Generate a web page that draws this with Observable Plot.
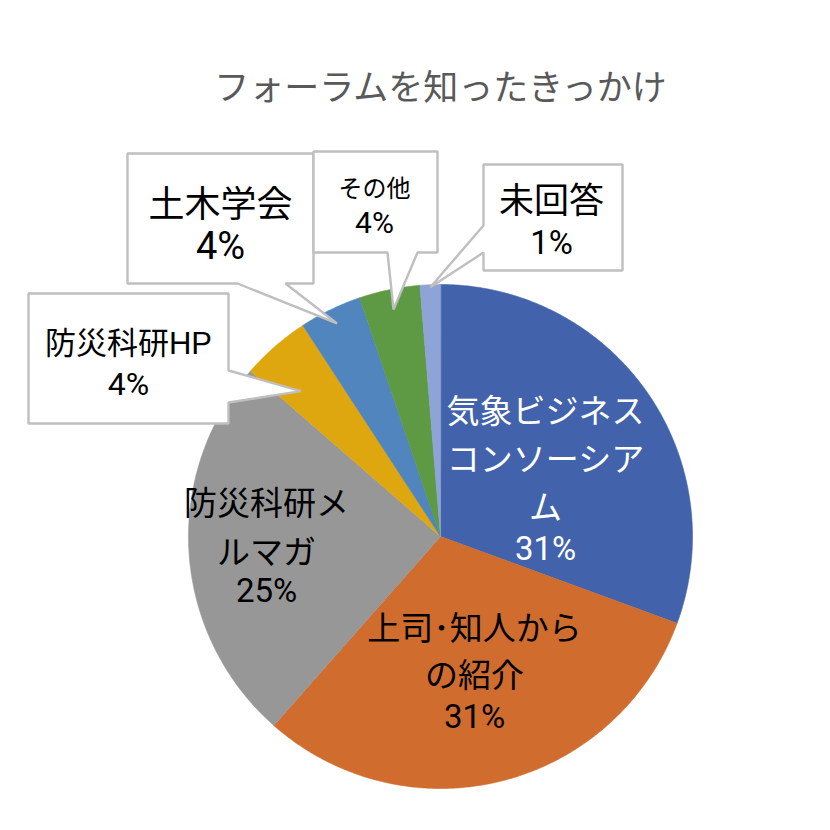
<!DOCTYPE html>
<html><head><meta charset="utf-8">
<script src="https://cdn.jsdelivr.net/npm/d3@7"></script>
<script src="https://cdn.jsdelivr.net/npm/@observablehq/plot@0.6"></script>
<style>
body{margin:0;background:#fff;}
#chart{width:830px;height:830px;}
</style></head><body><div id="chart"></div>
<script>
// ---------- data ----------
const title = "フォーラムを知ったきっかけ";
const categories = ["気象ビジネスコンソーシアム","上司･知人からの紹介","防災科研メルマガ","防災科研HP","土木学会","その他","未回答"];
const shares = [30.6, 30.9, 24.9, 4.4, 4.0, 3.9, 1.3];
const labelLines = [["気象ビジネス","コンソーシア","ム"],["上司･知人から","の紹介"],["防災科研メ","ルマガ"],["防災科研HP"],["土木学会"],["その他"],["未回答"]];
const colors = ["#4263AB","#CF6C2E","#979797","#DFA70F","#5085BE","#5E9943","#8EA3D6"];

// ---------- layout (page pixels) ----------
const W = 830, H = 830, CX = 440, CY = 536, R = 252;
const FONT = "'Liberation Sans', 'Noto Sans CJK JP', sans-serif";
const PCT_FONT = "Roboto, 'Liberation Sans', sans-serif";
const labelLayout = [
  {x:545, nameY:455, pctY:549, size:33, pctSize:33, lh:1.45, color:"#ffffff"},
  {x:474, nameY:648, pctY:717, size:33, pctSize:33, lh:1.42, color:"#000000"},
  {x:266, nameY:523, pctY:591, size:33, pctSize:33, lh:1.5,  color:"#000000"},
  {x:128, nameY:340, pctY:384, size:31, pctSize:32, lh:1.4,  color:"#000000"},
  {x:220, nameY:200, pctY:246, size:36, pctSize:38, lh:1.4,  color:"#000000"},
  {x:374, nameY:186, pctY:223, size:24, pctSize:30, lh:1.4,  color:"#000000"},
  {x:551, nameY:197, pctY:243, size:35, pctSize:33, lh:1.4,  color:"#000000"}
];
// callout boxes: index into categories, box edges, pointer side and base, tip (fraction of radius, angle shift in degrees)
const callouts = [
  {i:3, l:28,  t:293, r:228, b:423, side:"right",  base:[370,402], tipR:0.80, shift:-2.8},
  {i:4, l:127, t:153, r:313, b:283, side:"bottom", base:[237,285], tipR:0.94, shift:0},
  {i:5, l:313, t:151, r:437, b:252, side:"bottom", base:[387,417], tipR:0.92, shift:0},
  {i:6, l:483, t:164, r:622, b:270, side:"left",   base:[225,252], tipR:0.99, shift:0}
];

// ---------- geometry ----------
const toX = px => (px - CX) / R;
const toY = py => (CY - py) / R;
const total = d3.sum(shares);
let acc = 0;
const slices = categories.map((c, i) => {
  const a0 = acc / total * 2 * Math.PI;
  acc += shares[i];
  const a1 = acc / total * 2 * Math.PI;
  const n = Math.max(2, Math.ceil((a1 - a0) / (Math.PI / 360)));
  const pts = [{x: 0, y: 0}];
  for (let k = 0; k <= n; k++) {
    const a = a0 + (a1 - a0) * k / n;
    pts.push({x: Math.sin(a), y: Math.cos(a)});
  }
  return {c, i, a0, a1, mid: (a0 + a1) / 2, pts, color: colors[i], pct: Math.round(shares[i] / total * 100) + "%"};
});

function calloutPoly(co) {
  const s = slices[co.i];
  const a = s.mid + co.shift * Math.PI / 180;
  const tip = {x: co.tipR * Math.sin(a), y: co.tipR * Math.cos(a)};
  const P = (px, py) => ({x: toX(px), y: toY(py)});
  const {l, t, r, b, base} = co;
  if (co.side === "bottom") return [P(l,t), P(r,t), P(r,b), P(base[1],b), tip, P(base[0],b), P(l,b)];
  if (co.side === "right")  return [P(l,t), P(r,t), P(r,base[0]), tip, P(r,base[1]), P(r,b), P(l,b)];
  return [P(l,t), P(r,t), P(r,b), P(l,b), P(l,base[1]), tip, P(l,base[0])];
}

const marks = [];
// pie slices
for (const s of slices) {
  marks.push(Plot.line(s.pts, {x: "x", y: "y", fill: s.color, stroke: s.color, strokeWidth: 0.6, curve: "linear-closed"}));
}
// callout boxes
for (const co of callouts) {
  marks.push(Plot.line(calloutPoly(co), {x: "x", y: "y", fill: "#ffffff", stroke: "#BFBFBF", strokeWidth: 2.4, curve: "linear-closed", strokeLinejoin: "miter"}));
}
// labels
slices.forEach((s, i) => {
  const L = labelLayout[i];
  marks.push(Plot.text([labelLines[i].join("\n")], {x: toX(L.x), y: toY(L.nameY), text: d => d, fill: L.color,
    fontSize: L.size, lineHeight: L.lh, textAnchor: "middle", lineAnchor: "middle", fontFamily: FONT}));
  marks.push(Plot.text([s.pct], {x: toX(L.x), y: toY(L.pctY), text: d => d, fill: L.color,
    fontSize: L.pctSize, fontWeight: 400, textAnchor: "middle", lineAnchor: "middle", fontFamily: PCT_FONT}));
});
// title
marks.push(Plot.text([title], {x: toX(440), y: toY(88), text: d => d, fill: "#595959", fontSize: 35,
  textAnchor: "middle", lineAnchor: "middle", fontFamily: "'Noto Sans CJK JP', sans-serif"}));

const chart = Plot.plot({
  width: W, height: H, margin: 0,
  x: {domain: [toX(0), toX(W)], axis: null},
  y: {domain: [toY(H), toY(0)], axis: null},
  style: {background: "#ffffff", fontFamily: FONT},
  marks
});
document.getElementById("chart").appendChild(chart);
</script>
</body></html>
